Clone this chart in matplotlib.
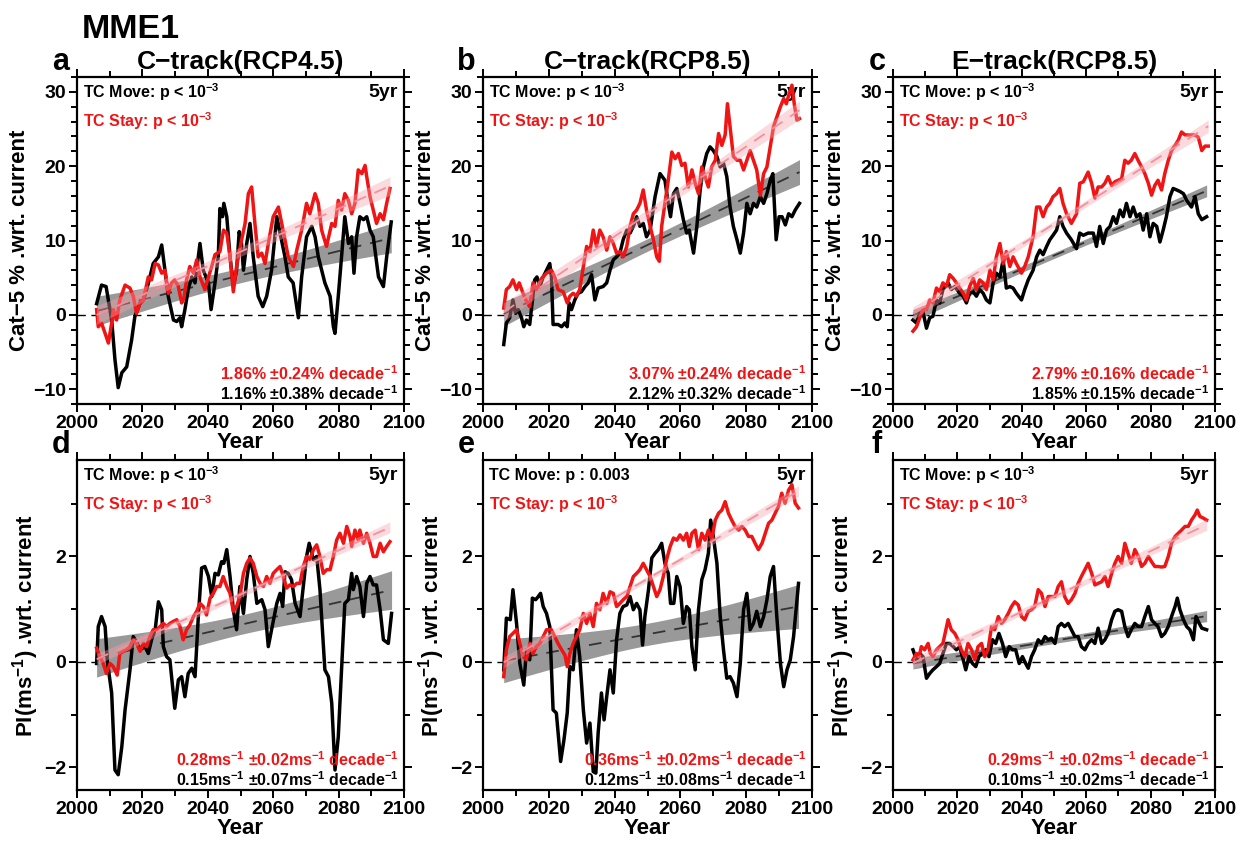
#!/usr/bin/env python3
"""MME1 Cat-5 fraction and PI change, TC Move vs TC Stay, 5-yr running means."""

import matplotlib.pyplot as plt
import numpy as np
from matplotlib.ticker import MultipleLocator

plt.rcParams["font.family"] = ["Liberation Sans", "DejaVu Sans"]
plt.rcParams["font.weight"] = "bold"
plt.rcParams["axes.labelweight"] = "bold"
plt.rcParams["axes.titleweight"] = "bold"
plt.rcParams["mathtext.fontset"] = "custom"
plt.rcParams["mathtext.rm"] = "Liberation Sans:bold"
plt.rcParams["mathtext.bf"] = "Liberation Sans:bold"
plt.rcParams["mathtext.default"] = "bf"

RED = "#f01414"

# (year, value) pairs; black = TC Move, red = TC Stay
A_MOVE = [(2006.0, 1.5), (2007.5, 4.0), (2008.9, 3.8), (2010.6, -0.7), (2011.6, -6.0), (2012.6, -9.8),
          (2013.7, -7.8), (2015.2, -7.0), (2016.7, -3.4), (2017.7, -0.2), (2019.3, 1.6), (2020.3, 2.0),
          (2021.8, 4.2), (2023.3, 6.9), (2024.9, 7.8), (2025.9, 9.4), (2026.9, 6.0), (2027.9, 2.5),
          (2029.5, -0.7), (2030.5, -0.9), (2031.5, -0.4), (2032.0, -1.6), (2033.0, 0.7), (2034.0, 3.4),
          (2035.1, 5.1), (2036.1, 4.3), (2037.6, 9.6), (2038.6, 6.0), (2040.2, 4.3), (2041.0, 0.7),
          (2042.2, 4.3), (2043.2, 7.8), (2043.7, 14.3), (2044.5, 13.2), (2044.9, 15.0), (2045.8, 13.2),
          (2046.8, 7.8), (2047.8, 3.8), (2048.8, 6.0), (2049.6, 11.2), (2050.3, 9.6), (2050.9, 6.0),
          (2051.9, 9.6), (2052.9, 12.3), (2053.9, 7.8), (2055.4, 2.5), (2056.8, 1.1), (2058.0, 2.5),
          (2059.5, 6.0), (2061.1, 13.2), (2062.1, 11.0), (2063.6, 7.8), (2064.6, 5.1), (2066.1, 4.3),
          (2067.7, -0.4), (2068.7, 5.1), (2070.2, 10.5), (2071.8, 11.9), (2072.8, 10.5), (2073.8, 7.8),
          (2075.8, 4.3), (2077.4, 2.5), (2078.4, -1.6), (2078.9, -2.5), (2079.9, 2.5), (2080.9, 7.8),
          (2081.9, 13.2), (2083.0, 9.6), (2084.0, 10.5), (2084.7, 5.6), (2085.5, 10.5), (2086.5, 13.2),
          (2087.6, 12.8), (2088.6, 13.2), (2089.6, 11.4), (2090.6, 10.5), (2092.2, 5.1), (2093.7, 3.8),
          (2094.7, 7.8), (2096.1, 12.5)]
A_STAY = [(2006.0, 0.7), (2006.5, -1.6), (2007.5, -1.1), (2008.6, -2.5), (2009.6, -3.8), (2010.6, -1.1),
          (2011.1, 0.7), (2012.1, -0.7), (2013.1, 2.0), (2014.7, 4.0), (2016.2, 3.6), (2017.2, 2.5),
          (2018.2, 0.2), (2019.3, 1.6), (2020.3, 2.0), (2021.8, 5.1), (2022.8, 4.7), (2023.9, 6.9),
          (2024.9, 6.7), (2025.9, 5.6), (2026.9, 6.0), (2027.9, 2.9), (2028.9, 4.3), (2029.9, 4.7),
          (2031.0, 3.8), (2032.0, 1.6), (2032.7, 2.2), (2033.5, 4.7), (2034.5, 6.5), (2035.6, 5.6),
          (2036.6, 7.4), (2037.6, 5.1), (2039.1, 3.4), (2040.2, 5.1), (2041.2, 6.5), (2042.2, 8.1),
          (2043.7, 8.5), (2044.8, 11.4), (2045.8, 11.0), (2046.8, 7.8), (2047.8, 3.1), (2048.8, 6.5),
          (2050.3, 10.0), (2051.4, 12.3), (2052.4, 16.3), (2053.4, 17.2), (2054.4, 12.3), (2055.4, 7.8),
          (2056.5, 8.3), (2057.5, 6.9), (2058.5, 9.6), (2060.0, 13.2), (2061.6, 14.5), (2062.6, 12.3),
          (2063.6, 10.1), (2064.6, 7.8), (2066.2, 6.5), (2067.2, 8.7), (2068.7, 11.4), (2070.2, 15.0),
          (2071.2, 13.6), (2072.8, 16.3), (2073.8, 15.0), (2074.8, 11.4), (2076.3, 9.2), (2077.9, 12.3),
          (2078.9, 11.9), (2079.9, 15.4), (2080.9, 14.1), (2081.9, 16.3), (2083.0, 15.4), (2084.0, 13.6),
          (2085.0, 15.0), (2086.0, 19.5), (2087.1, 19.0), (2088.1, 20.1), (2088.6, 18.6), (2089.6, 15.9),
          (2090.6, 14.1), (2091.6, 12.3), (2092.7, 13.6), (2093.7, 12.8), (2094.7, 15.0), (2095.7, 17.0)]

B_MOVE = [(2006.3, -4.0), (2007.1, -1.1), (2008.1, -0.4), (2009.1, 2.0), (2009.9, 0.2), (2010.7, 0.7),
          (2011.7, -0.4), (2012.4, -1.6), (2013.2, -0.7), (2014.2, -1.3), (2014.7, 0.7), (2015.7, 4.7),
          (2016.4, 5.1), (2017.3, 3.8), (2018.3, 5.1), (2019.3, 6.0), (2020.3, 6.9), (2020.8, 5.1),
          (2021.3, -1.3), (2022.8, -1.3), (2023.9, -1.6), (2024.9, -1.1), (2025.6, -1.6), (2026.2, 1.6),
          (2026.9, 0.7), (2027.9, 2.0), (2028.9, 2.9), (2029.9, 3.1), (2031.0, 3.8), (2032.0, 4.3),
          (2033.0, 5.4), (2034.0, 2.0), (2035.0, 3.6), (2036.5, 3.8), (2037.6, 4.3), (2038.6, 6.0),
          (2039.6, 7.4), (2040.6, 7.8), (2041.6, 8.3), (2042.6, 10.1), (2043.7, 11.4), (2044.7, 11.0),
          (2045.7, 11.9), (2046.7, 13.2), (2047.7, 11.9), (2048.7, 12.3), (2049.7, 10.5), (2050.8, 11.4),
          (2052.3, 15.9), (2053.8, 19.0), (2055.3, 18.1), (2056.3, 15.0), (2057.0, 13.2), (2057.9, 16.3),
          (2058.9, 17.0), (2059.9, 15.0), (2060.9, 12.8), (2061.9, 11.0), (2062.7, 11.4), (2064.0, 8.3),
          (2065.0, 11.9), (2066.0, 16.8), (2067.0, 19.9), (2068.0, 21.7), (2069.0, 22.6), (2070.0, 22.1),
          (2071.1, 21.3), (2072.1, 19.9), (2073.1, 20.4), (2074.1, 18.6), (2075.1, 14.5), (2076.1, 11.9),
          (2077.2, 10.1), (2078.2, 8.3), (2079.2, 11.0), (2080.2, 15.0), (2081.2, 13.6), (2082.2, 15.0),
          (2083.2, 14.5), (2084.3, 15.9), (2085.3, 15.0), (2086.3, 16.3), (2087.3, 18.1), (2088.1, 19.0),
          (2089.1, 10.1), (2090.0, 13.2), (2090.9, 13.2), (2091.9, 12.1), (2092.9, 13.6), (2093.9, 13.2),
          (2094.9, 14.1), (2096.2, 15.0)]
B_STAY = [(2006.3, 0.9), (2007.1, 3.4), (2008.1, 3.8), (2009.1, 4.7), (2010.2, 3.4), (2011.0, 4.3),
          (2012.0, 3.1), (2013.0, 2.0), (2014.2, 1.1), (2015.2, 4.3), (2016.2, 3.4), (2017.8, 4.9),
          (2019.3, 5.6), (2020.8, 6.0), (2021.8, 5.1), (2022.8, 3.4), (2024.4, 3.1), (2025.6, 1.6),
          (2026.4, 2.5), (2027.4, 2.9), (2028.4, 2.5), (2029.4, 3.4), (2030.5, 6.5), (2031.5, 9.2),
          (2032.5, 8.5), (2033.5, 11.4), (2034.5, 9.2), (2035.5, 11.4), (2036.5, 10.5), (2037.6, 8.7),
          (2038.6, 10.5), (2039.6, 9.6), (2040.6, 8.3), (2041.6, 8.5), (2042.6, 7.8), (2043.7, 9.2),
          (2044.7, 11.9), (2045.7, 13.6), (2046.7, 14.1), (2047.7, 15.0), (2048.7, 16.8), (2049.7, 14.1),
          (2050.8, 11.9), (2051.8, 10.1), (2052.8, 7.8), (2053.6, 7.2), (2054.3, 11.9), (2055.3, 15.0),
          (2056.3, 18.1), (2057.4, 21.9), (2058.4, 21.0), (2059.4, 21.7), (2060.4, 20.1), (2061.4, 20.4),
          (2062.4, 17.2), (2063.5, 19.5), (2064.5, 17.7), (2065.5, 16.3), (2066.5, 19.9), (2067.5, 18.6),
          (2068.5, 17.2), (2069.5, 19.9), (2070.6, 20.8), (2071.6, 24.4), (2072.6, 22.8), (2073.6, 24.2),
          (2074.3, 28.4), (2075.1, 25.3), (2076.1, 21.3), (2077.2, 20.8), (2078.2, 20.8), (2079.2, 19.5),
          (2080.2, 20.8), (2081.2, 22.1), (2082.2, 20.8), (2083.2, 19.5), (2084.3, 16.1), (2085.3, 19.0),
          (2086.3, 19.9), (2087.3, 22.6), (2088.3, 25.3), (2089.3, 26.6), (2090.4, 28.0), (2091.4, 29.1),
          (2092.2, 28.4), (2092.9, 29.5), (2093.9, 30.9), (2094.6, 28.4), (2095.4, 26.2), (2096.2, 26.4)]

C_MOVE = [(2006.2, -0.7), (2007.3, -1.1), (2008.3, 0.2), (2009.3, 0.4), (2010.4, -1.8), (2011.4, -0.4),
          (2012.4, -0.2), (2013.5, 2.0), (2014.5, 1.6), (2015.5, 3.4), (2017.1, 4.3), (2018.1, 3.4),
          (2019.2, 3.8), (2020.7, 2.9), (2021.8, 2.5), (2022.8, 1.6), (2023.8, 2.9), (2024.9, 3.1),
          (2025.9, 2.5), (2026.9, 3.4), (2028.0, 2.9), (2029.0, 2.0), (2030.1, 1.6), (2031.1, 4.3),
          (2032.1, 5.6), (2033.2, 5.1), (2034.2, 7.4), (2035.2, 3.6), (2036.3, 3.8), (2037.3, 3.6),
          (2038.3, 2.9), (2039.9, 2.0), (2040.9, 3.4), (2042.0, 4.7), (2043.5, 6.0), (2044.6, 7.8),
          (2045.6, 8.7), (2046.6, 8.1), (2047.7, 9.2), (2048.7, 10.1), (2049.7, 10.7), (2050.8, 11.4),
          (2051.8, 13.2), (2052.8, 11.9), (2053.9, 11.0), (2055.4, 10.1), (2057.0, 8.9), (2058.0, 11.0),
          (2059.1, 10.7), (2060.6, 11.0), (2062.2, 11.0), (2063.2, 9.2), (2064.2, 11.9), (2065.3, 9.6),
          (2066.3, 11.4), (2067.4, 11.9), (2068.4, 13.2), (2069.4, 12.3), (2070.5, 14.1), (2071.5, 13.2),
          (2072.5, 15.0), (2073.6, 13.2), (2074.6, 14.5), (2075.6, 13.2), (2076.7, 13.6), (2077.7, 11.4),
          (2078.8, 13.6), (2079.8, 10.5), (2080.8, 12.3), (2081.9, 11.9), (2082.9, 9.8), (2083.9, 11.4),
          (2084.9, 13.2), (2086.0, 15.9), (2087.0, 17.0), (2088.1, 16.8), (2089.1, 16.6), (2090.2, 16.3),
          (2091.2, 15.4), (2092.7, 14.5), (2093.8, 15.9), (2094.8, 13.6), (2095.9, 12.8), (2097.4, 13.2)]
C_STAY = [(2006.2, -2.2), (2007.3, -1.6), (2008.3, -0.4), (2009.3, 0.7), (2010.4, 0.7), (2011.4, 2.0),
          (2012.4, 1.6), (2013.5, 3.6), (2014.5, 3.1), (2015.5, 4.3), (2016.6, 3.8), (2017.6, 5.4),
          (2018.7, 4.9), (2019.7, 4.3), (2020.7, 3.6), (2021.8, 2.9), (2022.8, 2.0), (2023.8, 3.8),
          (2024.9, 4.9), (2025.9, 3.4), (2026.9, 4.7), (2028.0, 4.3), (2029.0, 3.4), (2030.1, 6.0),
          (2031.1, 4.7), (2032.1, 7.8), (2033.2, 9.6), (2034.2, 6.9), (2035.2, 8.5), (2036.3, 6.5),
          (2037.3, 7.8), (2038.3, 6.9), (2039.9, 5.6), (2040.9, 6.5), (2042.0, 7.8), (2043.5, 10.5),
          (2044.6, 14.5), (2045.6, 14.5), (2046.6, 13.2), (2047.7, 14.5), (2048.7, 15.0), (2049.7, 15.9),
          (2050.8, 16.3), (2051.8, 17.0), (2052.8, 15.0), (2053.9, 13.6), (2055.4, 12.3), (2057.0, 13.6),
          (2058.0, 17.7), (2059.1, 17.9), (2060.6, 19.2), (2061.7, 17.7), (2062.7, 15.7), (2063.7, 17.2),
          (2064.8, 17.2), (2065.8, 17.7), (2066.8, 18.6), (2067.9, 17.4), (2068.9, 17.9), (2069.9, 18.1),
          (2071.0, 18.3), (2072.0, 20.8), (2073.0, 20.4), (2074.0, 20.8), (2075.1, 21.7), (2076.1, 20.8),
          (2077.2, 19.9), (2078.2, 19.0), (2079.3, 17.7), (2080.3, 16.1), (2081.3, 17.4), (2082.3, 18.1),
          (2083.4, 16.8), (2084.4, 19.0), (2085.5, 20.8), (2086.5, 22.1), (2087.6, 22.8), (2088.6, 23.5),
          (2089.6, 24.6), (2090.7, 24.2), (2092.2, 24.2), (2093.8, 24.2), (2094.8, 23.9), (2095.9, 22.1),
          (2096.9, 22.7), (2097.9, 22.7)]

D_MOVE = [(2006.0, -0.03), (2006.5, 0.67), (2007.5, 0.86), (2008.6, 0.67), (2009.3, 0.0), (2010.6, -0.59),
          (2011.6, -2.05), (2012.6, -2.14), (2013.7, -1.61), (2014.7, -0.91), (2016.2, -0.15), (2017.2, 0.48),
          (2018.4, 0.35), (2019.3, 0.23), (2020.8, 0.29), (2021.8, 0.16), (2022.8, 0.42), (2023.9, 0.61),
          (2024.9, 1.14), (2025.9, 0.99), (2026.4, 0.29), (2027.4, 0.10), (2028.4, 0.04), (2029.9, -0.88),
          (2031.0, -0.34), (2032.0, -0.28), (2033.0, -0.66), (2034.0, -0.22), (2035.1, -0.12), (2036.1, -0.28),
          (2037.1, 0.86), (2038.1, 1.78), (2039.1, 1.81), (2040.2, 1.62), (2041.2, 1.24), (2042.2, 1.68),
          (2043.2, 1.65), (2044.2, 1.90), (2044.9, 1.87), (2045.8, 2.13), (2046.8, 1.62), (2047.8, 0.99),
          (2048.8, 0.61), (2049.8, 1.43), (2050.9, 0.92), (2051.9, 1.56), (2052.9, 2.0), (2053.9, 1.68),
          (2055.0, 1.11), (2056.5, 1.18), (2057.5, 0.99), (2058.5, 0.29), (2059.5, 0.61), (2061.1, 1.11),
          (2062.1, 1.30), (2062.9, 1.05), (2063.6, 1.71), (2064.6, 1.68), (2065.6, 1.56), (2066.7, 1.11),
          (2068.2, 0.86), (2069.2, 1.43), (2070.2, 2.0), (2071.0, 2.25), (2072.3, 1.94), (2073.3, 2.0),
          (2074.3, 1.37), (2075.8, -0.15), (2076.9, -0.28), (2077.9, -0.78), (2078.9, -2.05), (2079.9, -1.42),
          (2080.9, -0.15), (2081.9, 1.11), (2083.0, 1.18), (2084.0, 1.68), (2084.5, 1.37), (2085.5, 1.62),
          (2086.5, 1.43), (2087.6, 0.86), (2088.6, 1.49), (2089.6, 1.62), (2090.6, 1.46), (2091.6, 1.46),
          (2092.7, 0.99), (2093.7, 0.42), (2095.2, 0.35), (2096.2, 0.92)]
D_STAY = [(2006.0, 0.26), (2007.0, 0.10), (2008.0, -0.03), (2009.0, -0.22), (2010.1, -0.03), (2011.1, -0.09),
          (2012.3, -0.25), (2013.1, 0.16), (2014.2, 0.20), (2015.2, 0.23), (2016.2, 0.29), (2017.2, 0.42),
          (2018.2, 0.35), (2019.3, 0.20), (2020.3, 0.35), (2021.3, 0.29), (2022.3, 0.48), (2023.3, 0.61),
          (2024.4, 0.61), (2025.4, 0.67), (2026.4, 0.73), (2027.4, 0.67), (2028.4, 0.73), (2029.5, 0.77),
          (2030.5, 0.80), (2031.5, 0.67), (2032.5, 0.42), (2033.5, 0.61), (2034.5, 0.70), (2035.6, 0.86),
          (2036.6, 0.96), (2037.6, 1.11), (2038.6, 1.05), (2039.6, 0.89), (2040.7, 1.21), (2041.7, 1.30),
          (2042.7, 1.43), (2043.7, 1.43), (2044.7, 1.62), (2045.8, 1.43), (2046.8, 1.30), (2047.8, 0.96),
          (2048.8, 1.05), (2049.8, 1.24), (2050.9, 1.68), (2051.9, 1.87), (2052.9, 1.97), (2053.9, 1.87),
          (2055.0, 1.62), (2056.0, 1.49), (2057.0, 1.43), (2058.0, 1.62), (2059.0, 1.49), (2060.0, 1.68),
          (2061.1, 1.75), (2062.1, 1.81), (2063.1, 1.62), (2064.1, 1.40), (2065.1, 1.46), (2066.2, 1.43),
          (2067.2, 1.49), (2068.2, 1.49), (2069.2, 1.81), (2070.2, 2.0), (2071.2, 1.94), (2072.3, 2.13),
          (2073.3, 2.22), (2074.3, 2.0), (2075.3, 1.68), (2076.4, 1.75), (2077.4, 1.75), (2078.4, 2.0),
          (2079.4, 2.31), (2080.4, 2.44), (2081.5, 2.25), (2082.5, 2.57), (2083.5, 2.38), (2084.0, 2.19),
          (2085.0, 2.50), (2086.0, 2.31), (2086.5, 2.50), (2087.6, 2.25), (2088.6, 2.44), (2089.6, 2.25),
          (2090.6, 2.0), (2091.6, 2.0), (2092.7, 2.25), (2093.7, 2.09), (2094.7, 2.19), (2095.7, 2.28)]

E_MOVE = [(2006.3, -0.15), (2007.1, 0.83), (2008.3, 0.80), (2009.1, 1.37), (2010.2, 0.73), (2011.2, -0.03),
          (2012.4, -0.44), (2013.2, 0.23), (2014.2, 0.04), (2015.0, 1.21), (2016.0, 1.18), (2016.8, 1.24),
          (2017.5, 1.30), (2018.3, 1.05), (2019.3, 0.92), (2020.3, 0.67), (2021.3, -0.91), (2022.3, -0.97),
          (2023.6, -1.89), (2024.6, -1.48), (2025.6, -0.97), (2026.4, -0.09), (2027.4, -0.15), (2028.4, 0.61),
          (2029.4, 0.10), (2030.5, -0.91), (2031.5, -1.54), (2032.5, -1.16), (2033.5, -2.08), (2034.3, -2.11),
          (2035.0, -1.35), (2036.0, -0.59), (2036.8, -1.10), (2037.6, -0.66), (2038.6, -0.15), (2039.6, -0.59),
          (2040.6, 0.42), (2041.6, 0.92), (2042.6, 1.05), (2043.7, 1.08), (2044.7, 1.24), (2045.7, 0.99),
          (2046.7, 1.11), (2047.7, 0.99), (2048.5, 0.32), (2049.2, 0.86), (2050.3, 1.37), (2051.3, 1.97),
          (2052.3, 2.06), (2053.3, 2.13), (2054.3, 2.25), (2055.3, 1.87), (2056.3, 1.68), (2057.0, 1.11),
          (2058.0, 1.11), (2058.9, 1.62), (2059.9, 1.43), (2060.9, 0.73), (2061.9, 1.05), (2062.7, 0.99),
          (2063.5, 0.29), (2064.5, -0.15), (2065.5, 0.99), (2066.5, 1.56), (2067.5, 1.75), (2068.5, 2.06),
          (2069.2, 2.69), (2070.0, 2.38), (2071.1, 1.87), (2072.1, 0.86), (2073.1, 0.23), (2074.1, -0.31),
          (2075.1, -0.28), (2076.1, -0.40), (2077.2, -0.66), (2078.2, -0.03), (2079.2, 0.99), (2080.2, 1.30),
          (2081.2, 0.61), (2082.2, 0.73), (2083.2, 0.96), (2084.3, 0.67), (2085.3, 0.86), (2086.3, 1.18),
          (2087.3, 1.62), (2088.3, 1.81), (2089.3, 0.86), (2090.4, -0.03), (2091.4, -0.47), (2092.4, -0.15),
          (2093.4, 0.04), (2094.4, 0.48), (2095.9, 1.49)]
E_STAY = [(2006.3, -0.28), (2007.1, 0.23), (2008.1, 0.48), (2009.1, 0.54), (2010.2, 0.61), (2011.2, 0.35),
          (2012.2, 0.10), (2013.2, 0.04), (2014.2, 0.35), (2015.2, 0.16), (2016.2, 0.29), (2017.3, 0.35),
          (2018.3, 0.48), (2019.3, 0.61), (2020.8, 0.61), (2021.8, 0.48), (2022.8, 0.35), (2023.9, 0.23),
          (2024.9, 0.13), (2025.6, -0.09), (2026.4, 0.16), (2027.4, 0.35), (2028.4, 0.48), (2029.4, 0.61),
          (2030.5, 0.92), (2031.5, 0.73), (2032.5, 0.92), (2033.5, 0.67), (2034.5, 1.11), (2035.5, 0.99),
          (2036.5, 1.30), (2037.6, 1.11), (2038.6, 1.33), (2039.6, 1.30), (2040.6, 1.05), (2041.6, 1.11),
          (2042.6, 1.18), (2043.7, 1.24), (2044.7, 1.43), (2045.7, 1.62), (2046.7, 1.68), (2047.7, 1.75),
          (2048.7, 1.87), (2049.7, 1.75), (2050.8, 1.62), (2051.8, 1.43), (2052.8, 1.24), (2053.8, 1.37),
          (2054.8, 1.62), (2055.8, 1.94), (2056.9, 2.19), (2057.9, 2.35), (2058.9, 2.31), (2059.9, 2.41),
          (2060.9, 2.31), (2061.9, 2.44), (2062.7, 2.19), (2063.5, 2.44), (2064.5, 2.50), (2065.5, 2.13),
          (2066.5, 2.44), (2067.5, 2.31), (2068.5, 2.50), (2069.5, 2.31), (2070.6, 2.69), (2071.6, 2.82),
          (2072.6, 2.88), (2073.6, 3.04), (2074.6, 2.82), (2075.6, 2.69), (2076.6, 2.57), (2077.7, 2.50),
          (2078.7, 2.57), (2079.7, 2.50), (2080.7, 2.38), (2081.7, 2.38), (2082.7, 2.25), (2083.7, 2.13),
          (2084.8, 2.25), (2085.8, 2.44), (2086.8, 2.63), (2087.8, 2.69), (2088.8, 2.82), (2089.8, 2.95),
          (2090.8, 3.20), (2091.8, 3.01), (2092.9, 3.26), (2093.9, 3.36), (2094.9, 3.01), (2095.9, 2.92)]

F_MOVE = [(2006.2, 0.23), (2007.3, 0.04), (2008.3, 0.16), (2009.3, 0.10), (2010.4, -0.31), (2011.4, -0.22),
          (2012.4, -0.15), (2013.5, -0.09), (2014.5, -0.03), (2015.5, 0.16), (2016.6, 0.35), (2017.6, 0.35),
          (2018.7, 0.29), (2019.7, 0.23), (2020.7, 0.29), (2021.8, 0.04), (2022.6, -0.15), (2023.6, 0.10),
          (2024.7, -0.03), (2025.7, -0.09), (2026.7, 0.10), (2027.8, 0.16), (2028.8, 0.23), (2029.8, 0.10),
          (2030.9, 0.42), (2031.9, 0.35), (2032.9, 0.54), (2034.0, 0.35), (2035.0, 0.10), (2036.1, 0.29),
          (2037.1, 0.23), (2038.1, 0.23), (2039.2, -0.03), (2040.2, 0.10), (2041.2, -0.03), (2042.0, -0.12),
          (2043.0, 0.10), (2044.0, 0.23), (2045.1, 0.42), (2046.1, 0.35), (2047.2, 0.48), (2048.2, 0.42),
          (2049.2, 0.45), (2050.3, 0.35), (2051.3, 0.67), (2052.3, 0.73), (2053.3, 0.67), (2054.4, 0.73),
          (2055.4, 0.61), (2056.5, 0.48), (2057.5, 0.48), (2058.5, 0.29), (2059.6, 0.23), (2060.6, 0.35),
          (2061.7, 0.42), (2062.7, 0.35), (2063.7, 0.64), (2064.8, 0.35), (2065.8, 0.42), (2066.8, 0.54),
          (2067.9, 0.80), (2068.9, 0.96), (2069.9, 0.99), (2071.0, 0.96), (2072.0, 0.67), (2073.0, 0.48),
          (2074.0, 0.61), (2075.1, 0.73), (2076.2, 0.67), (2077.2, 0.67), (2078.2, 0.86), (2079.3, 1.05),
          (2080.3, 0.80), (2081.3, 0.73), (2082.3, 0.67), (2083.4, 0.48), (2084.4, 0.54), (2085.5, 0.67),
          (2086.5, 0.86), (2087.6, 1.05), (2088.3, 1.21), (2089.1, 0.99), (2090.2, 0.80), (2091.2, 0.67),
          (2092.2, 0.61), (2093.3, 0.42), (2094.1, 0.86), (2095.1, 0.73), (2095.9, 0.64), (2097.4, 0.61)]
F_STAY = [(2006.2, 0.04), (2007.3, 0.16), (2008.1, 0.10), (2008.8, 0.29), (2009.8, 0.23), (2010.9, 0.35),
          (2011.6, 0.16), (2012.4, 0.10), (2013.5, 0.23), (2014.5, 0.29), (2015.5, 0.35), (2017.1, 0.80),
          (2018.1, 0.61), (2019.2, 0.54), (2020.2, 0.42), (2021.2, 0.23), (2022.3, 0.10), (2023.3, 0.35),
          (2024.4, 0.23), (2025.4, 0.04), (2026.4, 0.29), (2027.5, 0.35), (2028.5, 0.10), (2029.5, 0.23),
          (2030.6, 0.67), (2031.6, 0.61), (2032.7, 0.86), (2033.7, 0.73), (2034.7, 0.80), (2035.8, 0.92),
          (2036.8, 1.05), (2037.8, 1.14), (2038.9, 1.08), (2039.9, 0.86), (2040.9, 0.80), (2042.0, 0.96),
          (2043.0, 0.99), (2044.0, 1.05), (2045.1, 1.37), (2046.1, 1.30), (2047.2, 1.05), (2048.2, 1.24),
          (2049.2, 1.24), (2050.3, 1.24), (2051.3, 1.43), (2052.3, 1.52), (2053.3, 1.24), (2054.4, 1.11),
          (2055.4, 1.18), (2056.5, 1.30), (2057.5, 1.49), (2058.5, 1.62), (2059.6, 1.75), (2060.6, 1.87),
          (2061.7, 1.68), (2062.7, 1.46), (2063.7, 1.49), (2064.8, 1.52), (2065.8, 1.62), (2066.8, 1.43),
          (2067.9, 1.68), (2068.9, 1.87), (2069.9, 2.0), (2071.0, 1.87), (2072.0, 2.25), (2073.0, 2.06),
          (2074.0, 1.87), (2075.1, 2.13), (2076.2, 2.0), (2077.2, 1.81), (2078.2, 1.87), (2079.3, 2.0),
          (2080.3, 1.90), (2081.3, 1.81), (2082.3, 1.81), (2083.4, 1.80), (2084.4, 1.81), (2085.5, 2.0),
          (2086.5, 2.25), (2087.6, 2.38), (2088.6, 2.44), (2089.6, 2.50), (2090.7, 2.57), (2091.7, 2.57),
          (2092.7, 2.69), (2093.8, 2.79), (2094.5, 2.88), (2095.3, 2.76), (2096.3, 2.73), (2097.4, 2.69)]

LETTERS = ["a", "b", "c", "d", "e", "f"]
TITLES = ["C\u2212track(RCP4.5)", "C\u2212track(RCP8.5)", "E\u2212track(RCP8.5)"]
MOVE_P = ["p < 10$^{-3}$", "p < 10$^{-3}$", "p < 10$^{-3}$", "p < 10$^{-3}$", "p : 0.003", "p < 10$^{-3}$"]
# trend and its uncertainty per decade (stay, move)
STAY_TREND = [1.86, 3.07, 2.79, 0.28, 0.36, 0.29]
STAY_ERR = [0.24, 0.24, 0.16, 0.02, 0.02, 0.02]
MOVE_TREND = [1.16, 2.12, 1.85, 0.15, 0.12, 0.10]
MOVE_ERR = [0.38, 0.32, 0.15, 0.07, 0.08, 0.02]
MOVES = [A_MOVE, B_MOVE, C_MOVE, D_MOVE, E_MOVE, F_MOVE]
STAYS = [A_STAY, B_STAY, C_STAY, D_STAY, E_STAY, F_STAY]


def trend_band(ax, series, err, fill, line, fill_alpha, z):
    t, v = np.array(series).T
    k, b = np.polyfit(t, v, 1)
    tt = np.linspace(t[0], t[-1], 100)
    years = np.arange(round(t[0]), round(t[-1]) + 1)
    half = err / 10 * np.sqrt(years.var() + (tt - years.mean()) ** 2)
    fit = k * tt + b
    ax.fill_between(tt, fit - half, fit + half, color=fill, alpha=fill_alpha, lw=0, zorder=z)
    ax.plot(tt, fit, color=line, lw=1.3, dashes=(7, 5), zorder=z + 0.1)


def main() -> None:
    fig = plt.figure(figsize=(12.51, 8.42), dpi=100)
    lefts = [77, 483, 893]
    widths = [327, 329, 322]
    tops = [(77, 327), (460, 330)]
    fig.text(82 / 1251, 1 - 38 / 842, "MME1", fontsize=24.5, va="baseline")

    for i in range(6):
        row, col = divmod(i, 3)
        top, h = tops[row]
        ax = fig.add_axes([lefts[col] / 1251, 1 - (top + h) / 842, widths[col] / 1251, h / 842])
        pi = row == 1

        ax.axhline(0, color="black", lw=1.0, dashes=(6, 4), zorder=1)
        trend_band(ax, MOVES[i], MOVE_ERR[i], "#999999", "#333333", 1.0, 2)
        mt, mv = np.array(MOVES[i]).T
        st, sv = np.array(STAYS[i]).T
        ax.plot(mt, mv, color="black", lw=2.5, zorder=3)
        ax.plot(st, sv, color=RED, lw=2.5, zorder=4)
        trend_band(ax, STAYS[i], STAY_ERR[i], "#f7a3ad", "#f4909c", 0.4, 5)

        ax.set_xlim(2000, 2100)
        ax.xaxis.set_major_locator(MultipleLocator(20))
        ax.xaxis.set_minor_locator(MultipleLocator(10))
        if pi:
            ax.set_ylim(-2.43, 3.83)
            ax.yaxis.set_major_locator(MultipleLocator(2))
            ax.yaxis.set_minor_locator(MultipleLocator(1))
            ax.set_ylabel("PI(ms$^{-1}$) .wrt. current", fontsize=16, labelpad=2)
        else:
            ax.set_ylim(-12, 32)
            ax.yaxis.set_major_locator(MultipleLocator(10))
            ax.yaxis.set_minor_locator(MultipleLocator(2))
            ax.set_ylabel("Cat\u22125 % .wrt. current", fontsize=16, labelpad=2)
            ax.set_title(TITLES[col], fontsize=19, pad=6)
        ax.set_xlabel("Year", fontsize=16, labelpad=0)
        ax.tick_params(which="both", direction="out", top=True, right=True, labelsize=14, width=1.4, pad=2)
        ax.tick_params(which="major", length=6)
        ax.tick_params(which="minor", length=4)
        for s in ax.spines.values():
            s.set_linewidth(1.6)

        ax.text(-0.05, 1.02, LETTERS[i], transform=ax.transAxes, fontsize=22, ha="center", va="baseline")
        ax.text(0.018, 0.953, "TC Move: " + MOVE_P[i], transform=ax.transAxes, fontsize=11.5, va="center")
        ax.text(0.018, 0.865, "TC Stay: p < 10$^{-3}$", transform=ax.transAxes, fontsize=11.5,
                color=RED, va="center")
        ax.text(0.98, 0.953, "5yr", transform=ax.transAxes, fontsize=14, ha="right", va="center")
        if pi:
            unit = "ms$^{-1}$"
            red_txt = f"{STAY_TREND[i]:.2f}{unit} \u00b1{STAY_ERR[i]:.2f}{unit} decade$^{{-1}}$"
            blk_txt = f"{MOVE_TREND[i]:.2f}{unit} \u00b1{MOVE_ERR[i]:.2f}{unit} decade$^{{-1}}$"
        else:
            red_txt = f"{STAY_TREND[i]:.2f}% \u00b1{STAY_ERR[i]:.2f}% decade$^{{-1}}$"
            blk_txt = f"{MOVE_TREND[i]:.2f}% \u00b1{MOVE_ERR[i]:.2f}% decade$^{{-1}}$"
        ax.text(0.983, 0.093, red_txt, transform=ax.transAxes, fontsize=11.5, color=RED,
                ha="right", va="center")
        ax.text(0.983, 0.032, blk_txt, transform=ax.transAxes, fontsize=11.5, ha="right", va="center")

    fig.savefig("out.png", dpi=100)
    plt.close(fig)


if __name__ == "__main__":
    main()
